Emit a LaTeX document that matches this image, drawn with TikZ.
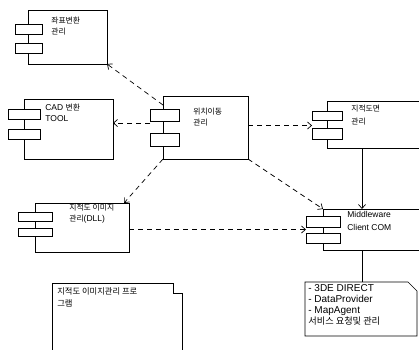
\documentclass[tikz,border=0pt]{standalone}
\usepackage{fontspec}
\setmainfont{Liberation Sans}
\newfontfamily\kr[Scale=0.92]{Noto Sans CJK KR}
\usetikzlibrary{arrows.meta}
\begin{document}
\begin{tikzpicture}[x=1pt,y=-1pt,line width=0.7pt,
  body/.style={draw,fill=white,inner sep=0pt,outer sep=0pt,anchor=north west},
  tabbox/.style={draw,fill=white,inner sep=0pt,outer sep=0pt,anchor=north west},
  lbl/.style={inner sep=0pt,anchor=north west,align=left,font=\fontsize{8.5}{11}\selectfont},
  dep/.style={dash pattern=on 5pt off 4pt,-{Straight Barb[length=4pt,width=7pt]}},
  link/.style={-{Straight Barb[length=4pt,width=7pt]}}]
\useasboundingbox (0,0) rectangle (419,349);
\clip (0,0) rectangle (419,349);
% top component
\node[body,minimum width=79pt,minimum height=54pt] (zp) at (28,10) {};
\node[tabbox,minimum width=27pt,minimum height=10pt] (zpt1) at (15,24) {};
\node[tabbox,minimum width=27pt,minimum height=10pt] (zpt2) at (15,43) {};
\node[lbl] (zpl) at (51,17) {{\kr 좌표변환}\\{\kr 관리}};
% CAD tool
\node[body,minimum width=89pt,minimum height=60pt] (cad) at (24,99) {};
\node[tabbox,minimum width=32pt,minimum height=10pt] (cadt1) at (8,109) {};
\node[tabbox,minimum width=32pt,minimum height=10pt] (cadt2) at (8,129) {};
\node[lbl] (cadl) at (45,104) {CAD {\kr 변환}\\TOOL};
% center
\node[body,minimum width=85pt,minimum height=63pt] (ctr) at (163,96) {};
\node[tabbox,minimum width=29pt,minimum height=12pt] (ctrt1) at (150,109) {};
\node[tabbox,minimum width=29pt,minimum height=13pt] (ctrt2) at (150,133) {};
\node[lbl] (ctrl) at (193,108) {{\kr 위치이동}\\{\kr 관리}};
% jijeok domyeon
\node[body,minimum width=100pt,minimum height=47pt] (jd) at (327,101) {};
\node[tabbox,minimum width=30pt,minimum height=9pt] (jdt1) at (312,111) {};
\node[tabbox,minimum width=30pt,minimum height=11pt] (jdt2) at (312,128) {};
\node[lbl,font=\fontsize{8.5}{13}\selectfont] (jdl) at (351,105) {{\kr 지적도면}\\{\kr 관리}};
% middleware
\node[body,minimum width=105pt,minimum height=41pt] (mw) at (323,209) {};
\node[tabbox,minimum width=34pt,minimum height=11pt] (mwt1) at (306,216) {};
\node[tabbox,minimum width=34pt,minimum height=10pt] (mwt2) at (306,233) {};
\node[lbl,font=\fontsize{8.5}{13}\selectfont] (mwl) at (347,211) {Middleware\\Client COM};
% DLL
\node[body,minimum width=94pt,minimum height=49pt] (dll) at (35,203) {};
\node[tabbox,minimum width=34pt,minimum height=9pt] (dllt1) at (18,212) {};
\node[tabbox,minimum width=34pt,minimum height=8pt] (dllt2) at (18,228) {};
\node[lbl] (dlll) at (69,204) {{\kr 지적도 이미지}\\{\kr 관리}(DLL)};
% program note (bottom left)
\node[inner sep=0pt,outer sep=0pt,minimum width=130pt,minimum height=80pt,anchor=north west] (prog) at (52,283) {};
\draw (prog.south west) -- (prog.north west) -- (173,283) -- (173,293) -- (182,293) -- (182,370);
\node[lbl,font=\fontsize{9}{12}\selectfont] (progl) at (57,287) {{\kr 지적도 이미지관리 프로}\\{\kr 그램}};
% service note (bottom right)
\node[inner sep=0pt,outer sep=0pt,minimum width=112pt,minimum height=54pt,anchor=north west] (note) at (305,282) {};
\draw (note.north west) -- (408,282) -- (417,291) -- (417,336) -- (note.south west) -- cycle;
\node[lbl,font=\fontsize{10}{11}\selectfont] (notel) at (308,284) {- 3DE DIRECT\\- DataProvider\\- MapAgent\\{\kr 서비스 요청및 관리}};
% connectors
\coordinate (vx) at (362,0);
\draw[dep] ([yshift=-2pt]ctrt1.south west) -- ([yshift=-2pt]ctrt1.south west -| cad.east);
\draw[dep] ([yshift=2pt]ctr.east) -- ([yshift=2pt]ctr.east -| jdt1.west);
\draw[dep] ([yshift=-9pt]ctr.north west) -- (zp.south east);
\draw[dep] (ctr.south west) -- ([xshift=-5pt]dll.north east);
\draw[dep] (ctr.south east) -- (mw.north west);
\draw[dep] ([yshift=-2pt]dll.east) -- ([yshift=-2pt]dll.east -| mwt1.west);
\draw[link] (jd.south -| vx) -- (mw.north -| vx);
\draw (mw.south -| vx) -- (note.north -| vx);
\end{tikzpicture}
\end{document}
